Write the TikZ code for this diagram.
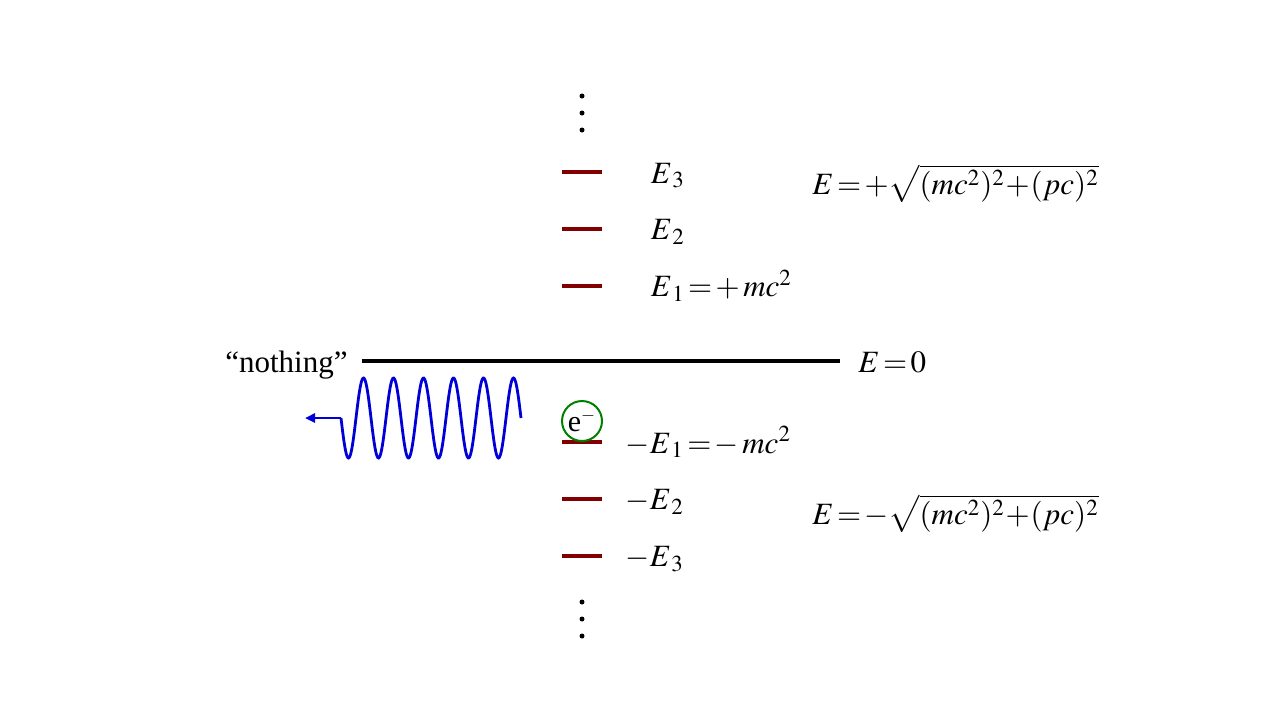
\documentclass[tikz,border=0pt]{standalone}
\usepackage{mathptmx}
\usepackage{fontspec}
\setmainfont{Liberation Serif}
\usetikzlibrary{arrows.meta,positioning}
\definecolor{LvlRed}{RGB}{130,0,0}
\definecolor{WaveBlue}{RGB}{0,0,215}
\definecolor{ElecGreen}{RGB}{0,128,0}

\begin{document}
\begin{tikzpicture}[x=0.5pt,y=-0.5pt,
        lvl/.style={fill=LvlRed,minimum width=20pt,minimum height=2pt,inner sep=0pt},
        lbl/.style={font=\fontsize{15.5}{18}\selectfont,inner sep=0pt,text height=11pt,text depth=0pt},
        eq/.style={font=\fontsize{15.5}{18}\selectfont,inner sep=0pt,anchor=base west},
        zero/.style={line width=2pt},
        wave/.style={WaveBlue,line width=1.4pt},
        elec/.style={circle,draw=ElecGreen,line width=1pt,minimum size=20pt,inner sep=0pt,
                     font=\fontsize{15}{16}\selectfont}
      ]
        \useasboundingbox (0,0) rectangle (1280,720);
        \node[lvl] (P3) at (582,172) {};
        \node[lvl,below=26pt of P3] (P2) {};
        \node[lvl,below=26pt of P2] (P1) {};
        \node[lvl] (N1) at (582,442) {};
        \node[lvl,below=26pt of N1] (N2) {};
        \node[lvl,below=26pt of N2] (N3) {};
        \node[lbl,right=24pt of P3] {$E_{\,3}$};
        \node[lbl,right=24pt of P2] {$E_{\,2}$};
        \node[lbl,right=24pt of P1] {$E_{\,1}\!=\!+\,mc^2$};
        \node[lbl,right=11.5pt of N1] {$-E_{\,1}\!=\!-\,mc^2$};
        \node[lbl,right=11.5pt of N2] {$-E_{\,2}$};
        \node[lbl,right=11.5pt of N3] {$-E_{\,3}$};
        \foreach \y in {96,113,130,602,619,636}
          \fill (582,\y) circle (2.5);
        \coordinate (L) at (362,361);
        \coordinate (R) at (840,361);
        \draw[zero] (L)--(R);
        \node[lbl,left=7pt of L] (nothing) {“nothing”};
        \node[lbl,right=9pt of R] (zero) {$E\!=\!0$};
        \node[eq] (Epos) at (812,194) {$E\!=\!+\sqrt{(mc^2)^2\!+\!(pc)^2}$};
        \node[eq] (Eneg) at (812,524) {$E\!=\!-\sqrt{(mc^2)^2\!+\!(pc)^2}$};
        \node[elec] (e) at (582,421) {e$^{\scriptscriptstyle -}$};
        \coordinate (W0) at (341,418);
        \coordinate (Wt) at (305,418);
        \draw[wave,-{Triangle[length=5pt,width=4.5pt]}] (W0)--(Wt);
        \draw[wave] plot[domain=341:521,samples=240] (\x,{418+40*sin(12*(\x-341))});
      \end{tikzpicture}
\end{document}
